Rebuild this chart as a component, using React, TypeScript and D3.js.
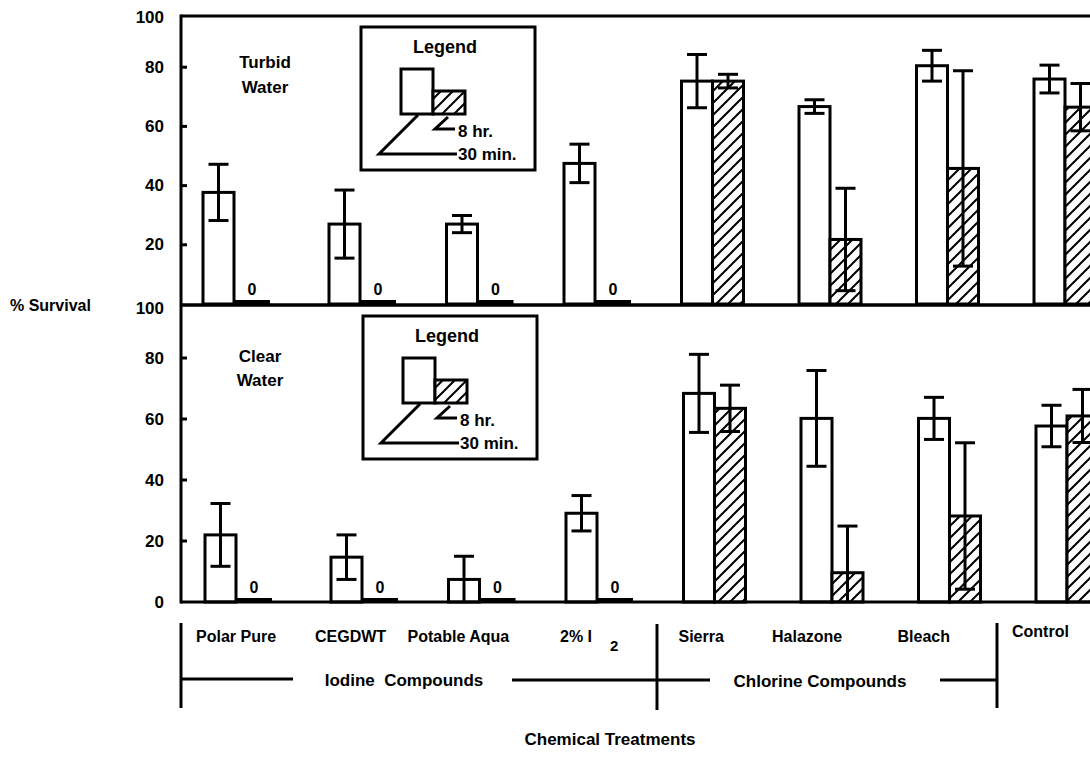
import React from "react";
import * as d3 from "d3";

// ---------- data ----------
const categories = ["Polar Pure", "CEGDWT", "Potable Aqua", "2% I2", "Sierra", "Halazone", "Bleach", "Control"];
const turbid30 = [37.7, 27.0, 27.0, 47.5, 75.3, 66.7, 80.5, 76.0];
const turbid30Err = [9.5, 11.5, 2.9, 6.5, 9.0, 2.3, 5.2, 4.7];
const turbid8 = [0, 0, 0, 0, 75.3, 21.8, 45.8, 66.5];
const turbid8Err = [0, 0, 0, 0, 2.3, 17.3, 33.0, 8.0];
const clear30 = [22.0, 14.7, 7.4, 29.1, 68.4, 60.2, 60.2, 57.7];
const clear30Err = [10.3, 7.3, 7.6, 5.8, 12.8, 15.7, 6.9, 6.8];
const clear8 = [0, 0, 0, 0, 63.5, 9.6, 28.2, 61.0];
const clear8Err = [0, 0, 0, 0, 7.6, 15.3, 24.0, 8.7];
const yTicks = [0, 20, 40, 60, 80, 100];
const groups = ["Iodine  Compounds", "Chlorine Compounds"];

// ---------- layout ----------
const W = 1090;
const H = 762;
const axisX = 181;
const frameTop = 16;
const midY = 305;
const baseY = 602;
const FONT = "'Liberation Sans', Arial, Helvetica, sans-serif";
const SW = 3;
const labelStart = [-38, -45, -70, -35, -34, -58, -50, -53];

const xIndex = d3.scaleLinear().domain([0, 1, 7]).range([234, 360, 1065]);
const x = (c: string) => xIndex(categories.indexOf(c));

const yTop = d3.scaleLinear().domain([0, 100]).range([304, 8]);
const yBot = d3.scaleLinear().domain([0, 100]).range([baseY, 297]);

function ErrorBar({ cx, v, e, y }: { cx: number; v: number; e: number; y: d3.ScaleLinear<number, number> }) {
  const hi = v + e;
  const lo = Math.max(0, v - e);
  const cap = 10;
  return (
    <g stroke="#000" strokeWidth={SW}>
      <line x1={cx} x2={cx} y1={y(hi)} y2={y(lo)} />
      <line x1={cx - cap} x2={cx + cap} y1={y(hi)} y2={y(hi)} />
      {v - e > 0.5 && <line x1={cx - cap} x2={cx + cap} y1={y(lo)} y2={y(lo)} />}
    </g>
  );
}

function Legend({ tx, ty }: { tx: number; ty: number }) {
  return (
    <g transform={`translate(${tx},${ty})`} fontFamily={FONT} fontWeight="bold">
      <rect x={0} y={0} width={174} height={143} fill="#fff" stroke="#000" strokeWidth={SW} />
      <text x={84} y={26} textAnchor="middle" fontSize={18}>Legend</text>
      <rect x={40} y={42} width={32} height={45} fill="#fff" stroke="#000" strokeWidth={SW} />
      <rect x={72} y={64} width={32} height={23} fill="url(#hatch)" stroke="#000" strokeWidth={SW} />
      <polyline points="57,88 18,127 96,127" fill="none" stroke="#000" strokeWidth={SW} />
      <polyline points="87,90 74,102 94,102" fill="none" stroke="#000" strokeWidth={SW} />
      <text x={97} y={110} fontSize={17}>8 hr.</text>
      <text x={97} y={133} fontSize={17}>30 min.</text>
    </g>
  );
}

function Panel({
  y,
  v30,
  e30,
  v8,
  e8,
  dx,
}: {
  y: d3.ScaleLinear<number, number>;
  v30: number[];
  e30: number[];
  v8: number[];
  e8: number[];
  dx: number;
}) {
  const b = y(0);
  return (
    <g>
      {categories.map((c, i) => {
        const xc = x(c) + dx;
        return (
          <g key={c}>
            <rect x={xc - 31} y={y(v30[i])} width={31} height={b - y(v30[i])} fill="#fff" stroke="#000" strokeWidth={SW} />
            {v8[i] > 0 ? (
              <rect x={xc} y={y(v8[i])} width={31} height={b - y(v8[i])} fill="url(#hatch)" stroke="#000" strokeWidth={SW} />
            ) : (
              <g>
                <rect x={xc} y={b - 4} width={36} height={4} fill="#000" />
                <text x={xc + 18} y={b - 9} textAnchor="middle" fontFamily={FONT} fontWeight="bold" fontSize={16}>
                  0
                </text>
              </g>
            )}
            <ErrorBar cx={xc - 15.5} v={v30[i]} e={e30[i]} y={y} />
            {v8[i] > 0 && <ErrorBar cx={xc + 15.5} v={v8[i]} e={e8[i]} y={y} />}
          </g>
        );
      })}
    </g>
  );
}

function TickLabels({ y, ticks, top }: { y: d3.ScaleLinear<number, number>; ticks: number[]; top: number }) {
  return (
    <g fontFamily={FONT} fontWeight="bold" fontSize={17}>
      {ticks.map((t) => {
        const yy = t === 100 ? top : y(t);
        return (
          <g key={t}>
            {t > 0 && t < 100 && <line x1={axisX} x2={axisX + 6} y1={yy} y2={yy} stroke="#000" strokeWidth={SW} />}
            <text x={164} y={yy} textAnchor="end" dominantBaseline="central">
              {t}
            </text>
          </g>
        );
      })}
    </g>
  );
}

export default function App() {
  return (
    <div style={{ position: "absolute", left: 0, top: 0, background: "#fff" }}>
      <svg width={W} height={H} style={{ display: "block" }}>
        <defs>
          <pattern id="hatch" patternUnits="userSpaceOnUse" width={12} height={12}>
            <rect width={12} height={12} fill="#fff" />
            <path d="M-3,3 L3,-3 M0,12 L12,0 M9,15 L15,9" stroke="#000" strokeWidth={2} />
          </pattern>
        </defs>
        <rect width={W} height={H} fill="#fff" />

        {/* panels */}
        <Panel y={yTop} v30={turbid30} e30={turbid30Err} v8={turbid8} e8={turbid8Err} dx={0} />
        <Panel y={yBot} v30={clear30} e30={clear30Err} v8={clear8} e8={clear8Err} dx={2} />

        {/* frame */}
        <g stroke="#000" strokeWidth={SW}>
          <line x1={axisX} x2={W} y1={frameTop} y2={frameTop} />
          <line x1={axisX} x2={W} y1={midY} y2={midY} strokeWidth={3.5} />
          <line x1={axisX} x2={W} y1={baseY} y2={baseY} />
          <line x1={axisX} x2={axisX} y1={frameTop - 1.5} y2={baseY + 1.5} />
        </g>

        <TickLabels y={yTop} ticks={yTicks.filter((t) => t > 0)} top={frameTop + 1} />
        <TickLabels y={yBot} ticks={yTicks} top={midY + 3} />

        <text x={10} y={311} fontFamily={FONT} fontWeight="bold" fontSize={16}>% Survival</text>

        {/* panel titles */}
        <g fontFamily={FONT} fontWeight="bold" fontSize={17} textAnchor="middle">
          <text x={265} y={68}>Turbid</text>
          <text x={265} y={93}>Water</text>
          <text x={260} y={362}>Clear</text>
          <text x={260} y={386}>Water</text>
        </g>

        <Legend tx={361} ty={27} />
        <Legend tx={363} ty={316} />

        {/* category labels */}
        <g fontFamily={FONT} fontWeight="bold" fontSize={16}>
          {categories.map((c, i) =>
            c.endsWith("I2") ? (
              <text key={c} x={x(c) + labelStart[i]} y={642}>
                {c.slice(0, -1)}
                <tspan dx={18} dy={9} fontSize={15}>2</tspan>
              </text>
            ) : (
              <text key={c} x={x(c) + labelStart[i]} y={c === "Control" ? 637 : 642}>
                {c}
              </text>
            )
          )}
        </g>

        {/* group brackets */}
        <g stroke="#000" strokeWidth={SW}>
          <line x1={axisX} x2={axisX} y1={623} y2={708} />
          <line x1={657} x2={657} y1={624} y2={710} />
          <line x1={997} x2={997} y1={623} y2={708} />
          <line x1={axisX} x2={293} y1={679} y2={679} />
          <line x1={512} x2={710} y1={680} y2={680} />
          <line x1={940} x2={997} y1={680} y2={680} />
        </g>
        <g fontFamily={FONT} fontWeight="bold" fontSize={17} textAnchor="middle">
          <text x={404} y={686} style={{ whiteSpace: "pre" }}>{groups[0]}</text>
          <text x={820} y={687}>{groups[1]}</text>
          <text x={610} y={745}>Chemical Treatments</text>
        </g>
      </svg>
    </div>
  );
}
